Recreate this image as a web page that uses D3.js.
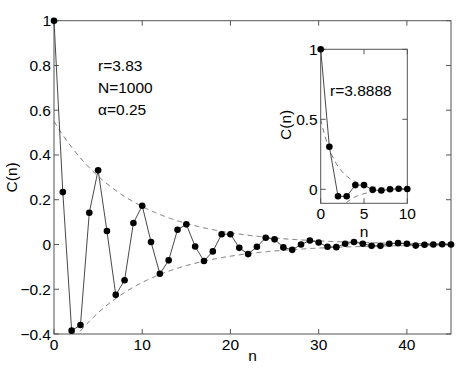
<!DOCTYPE html>
<html>
<head>
<meta charset="UTF-8">
<script src="https://d3js.org/d3.v7.min.js"></script>
<style>
  body { margin: 0; background: #fff; }
  svg text { font-family: "Liberation Sans", Arial, Helvetica, sans-serif; }
</style>
</head>
<body>
<svg id="chart" width="463" height="372"></svg>
<script>
// main panel: correlation C(n), r=3.83
var lagsMain = d3.range(0, 46);
var corrMain = [1, 0.234, -0.385, -0.36, 0.142, 0.332, 0.06, -0.225, -0.16, 0.096,
  0.173, 0.011, -0.131, -0.071, 0.066, 0.09, -0.009, -0.074, -0.031, 0.046,
  0.046, -0.015, -0.043, -0.01, 0.03, 0.023, -0.013, -0.024, 0.0, 0.018,
  0.009, -0.01, -0.012, 0.003, 0.011, 0.003, -0.006, -0.006, 0.003, 0.006,
  0.003, -0.005, -0.001, 0.0, 0.001, 0.0];
// fitted exponential envelope (+/- A exp(-n/tau))
var envMain = { amp: 0.55, tau: 8.5 };
var xTicksMain = [0, 10, 20, 30, 40];
var yTicksMain = [-0.4, -0.2, 0, 0.2, 0.4, 0.6, 0.8, 1];
var yLabelsMain = ["\u22120.4", "\u22120.2", "0", "0.2", "0.4", "0.6", "0.8", "1"];
var notesMain = ["r=3.83", "N=1000", "\u03b1=0.25"];

// inset: r=3.8888
var lagsInset = d3.range(0, 11);
var corrInset = [1, 0.304, -0.05, -0.05, 0.03, 0.03, -0.004, -0.009, 0.0, 0.004, 0.002];
var envInset = { amp: 0.5, tau: 1.8 };
var xTicksInset = [0, 5, 10];
var yTicksInset = [0, 0.5, 1];
var yLabelsInset = ["0", "0.5", "1"];
var notesInset = ["r=3.8888"];

var svg = d3.select("#chart");
var fs = 15.5;
var axisColor = "#555";

function panel(opt) {
    var x = d3.scaleLinear().domain(opt.xDomain).range([opt.left, opt.right]);
    var y = d3.scaleLinear().domain(opt.yDomain).range([opt.bottom, opt.top]);
    var g = svg.append("g");

    if (opt.fill) {
        g.append("rect")
            .attr("x", opt.left).attr("y", opt.top)
            .attr("width", opt.right - opt.left).attr("height", opt.bottom - opt.top)
            .attr("fill", "#fff");
    }

    // clip for dashed curves
    var clipId = "clip" + opt.id;
    svg.append("clipPath").attr("id", clipId).append("rect")
        .attr("x", opt.left).attr("y", opt.top)
        .attr("width", opt.right - opt.left).attr("height", opt.bottom - opt.top);

    var tk = 5;
    // ticks on all four sides, pointing inward
    opt.xTicks.forEach(function(t) {
        g.append("line").attr("x1", x(t)).attr("x2", x(t))
            .attr("y1", opt.bottom).attr("y2", opt.bottom - tk)
            .attr("stroke", axisColor);
        g.append("line").attr("x1", x(t)).attr("x2", x(t))
            .attr("y1", opt.top).attr("y2", opt.top + tk)
            .attr("stroke", axisColor);
        g.append("text").attr("x", x(t)).attr("y", opt.bottom + 16)
            .attr("text-anchor", "middle").attr("font-size", fs)
            .text(t);
    });
    opt.yTicks.forEach(function(t, i) {
        g.append("line").attr("x1", opt.left).attr("x2", opt.left + tk)
            .attr("y1", y(t)).attr("y2", y(t))
            .attr("stroke", axisColor);
        g.append("line").attr("x1", opt.right).attr("x2", opt.right - tk)
            .attr("y1", y(t)).attr("y2", y(t))
            .attr("stroke", axisColor);
        g.append("text").attr("x", opt.left - 3).attr("y", y(t) + 5.5)
            .attr("text-anchor", "end").attr("font-size", fs)
            .text(opt.yLabels[i]);
    });

    // envelope
    var fine = d3.range(opt.xDomain[0], opt.xDomain[1] + 0.001, 0.1);
    [1, -1].forEach(function(s) {
        var line = d3.line()
            .x(function(d) { return x(d); })
            .y(function(d) { return y(s * opt.env.amp * Math.exp(-d / opt.env.tau)); });
        g.append("path").datum(fine)
            .attr("d", line)
            .attr("fill", "none")
            .attr("stroke", "#666")
            .attr("stroke-width", 0.9)
            .attr("stroke-dasharray", "5,4")
            .attr("clip-path", "url(#" + clipId + ")");
    });

    // data line
    var pts = opt.lags.map(function(n, i) { return [n, opt.corr[i]]; });
    g.append("path").datum(pts)
        .attr("d", d3.line().x(function(d) { return x(d[0]); }).y(function(d) { return y(d[1]); }))
        .attr("fill", "none")
        .attr("stroke", "#333")
        .attr("stroke-width", 0.9);

    // box
    g.append("rect")
        .attr("x", opt.left).attr("y", opt.top)
        .attr("width", opt.right - opt.left).attr("height", opt.bottom - opt.top)
        .attr("fill", "none").attr("stroke", axisColor).attr("stroke-width", 1);

    g.selectAll("circle.pt").data(pts).enter().append("circle")
        .attr("class", "pt")
        .attr("cx", function(d) { return x(d[0]); })
        .attr("cy", function(d) { return y(d[1]); })
        .attr("r", 3.3)
        .attr("fill", "#000");

    // axis labels
    g.append("text").attr("x", (opt.left + opt.right) / 2).attr("y", opt.bottom + opt.xLabelDy)
        .attr("text-anchor", "middle").attr("font-size", fs).text("n");
    g.append("text")
        .attr("transform", "translate(" + opt.yLabelX + "," + y(opt.yLabelAt) + ") rotate(-90)")
        .attr("text-anchor", "middle").attr("font-size", fs).text("C(n)");

    // notes
    opt.notes.forEach(function(t, i) {
        g.append("text").attr("x", opt.noteX).attr("y", opt.noteY + i * 22)
            .attr("font-size", fs).text(t);
    });
}

panel({
    id: "main", left: 54, right: 451, top: 20.7, bottom: 334,
    xDomain: [0, 45], yDomain: [-0.4, 1],
    xTicks: xTicksMain, yTicks: yTicksMain, yLabels: yLabelsMain,
    lags: lagsMain, corr: corrMain, env: envMain,
    notes: notesMain, noteX: 98, noteY: 71,
    xLabelDy: 27, yLabelX: 17, yLabelAt: 0.3
});

panel({
    id: "inset", left: 320.7, right: 407.3, top: 49.3, bottom: 203.3, fill: true,
    xDomain: [0, 10], yDomain: [-0.1, 1],
    xTicks: xTicksInset, yTicks: yTicksInset, yLabels: yLabelsInset,
    lags: lagsInset, corr: corrInset, env: envInset,
    notes: notesInset, noteX: 330, noteY: 96,
    xLabelDy: 33.5, yLabelX: 291, yLabelAt: 0.46
});
</script>
</body>
</html>
